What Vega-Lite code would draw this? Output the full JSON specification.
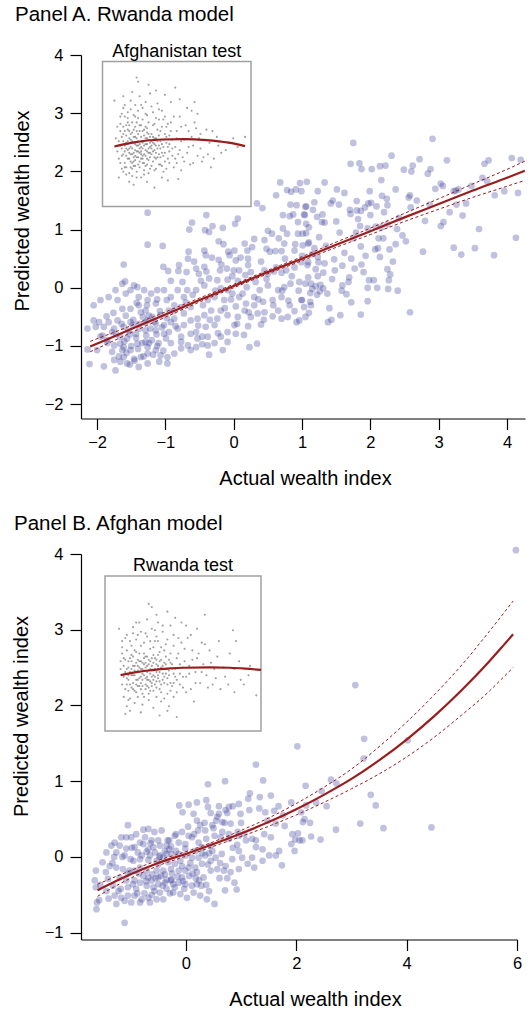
{
"$schema": "https://vega.github.io/schema/vega-lite/v6.json",
"padding": {"left": 11, "top": 4, "right": 0, "bottom": 0},
"spacing": 24,
"config": {
 "font": "Liberation Sans",
 "view": {"stroke": null},
 "axis": {"domainColor": "#000", "tickColor": "#000", "labelColor": "#000", "titleColor": "#000", "grid": false, "labelFontSize": 16.5, "titleFontSize": 20, "titleFontWeight": "normal", "tickSize": 11, "domainWidth": 1.2, "tickWidth": 1.2, "labelFlush": false, "labelOverlap": false, "labelBound": false, "labelFont": "Liberation Sans", "titleFont": "Liberation Sans"},
 "title": {"fontSize": 20.5, "fontWeight": "normal", "anchor": "start", "color": "#000", "font": "Liberation Sans"}
},
"datasets": {
 "ptsA": [
{"x":1.75,"y":2.49},{"x":2.91,"y":2.56},{"x":2.31,"y":2.27},{"x":1.71,"y":2.13},{"x":1.84,"y":2.14},{"x":1.87,"y":2.04},{"x":2.02,"y":2.04},{"x":2.14,"y":2.09},{"x":2.22,"y":2.10},{"x":2.49,"y":2.03},{"x":2.60,"y":2.00},{"x":2.62,"y":2.10},{"x":2.72,"y":2.21},{"x":2.88,"y":2.04},{"x":2.84,"y":1.96},{"x":3.12,"y":2.19},{"x":3.67,"y":2.13},{"x":3.73,"y":2.19},{"x":4.07,"y":2.23},{"x":1.07,"y":1.82},{"x":1.33,"y":1.81},{"x":1.23,"y":1.66},{"x":1.51,"y":1.69},{"x":1.62,"y":1.63},{"x":1.99,"y":1.66},{"x":2.16,"y":1.85},{"x":2.37,"y":1.69},{"x":2.58,"y":1.59},{"x":2.56,"y":1.55},{"x":2.17,"y":1.58},{"x":2.24,"y":1.53},{"x":2.25,"y":1.42},{"x":1.97,"y":1.45},{"x":2.01,"y":1.46},{"x":1.92,"y":1.38},{"x":1.86,"y":1.32},{"x":1.80,"y":1.49},{"x":1.70,"y":1.34},{"x":1.80,"y":1.33},{"x":2.09,"y":1.40},{"x":1.45,"y":1.50},{"x":1.42,"y":1.45},{"x":1.54,"y":1.43},{"x":1.18,"y":1.47},{"x":1.16,"y":1.34},{"x":1.05,"y":1.39},{"x":1.03,"y":1.26},{"x":1.22,"y":1.22},{"x":1.30,"y":1.26},{"x":1.29,"y":1.13},{"x":1.33,"y":1.12},{"x":1.50,"y":1.14},{"x":1.71,"y":1.27},{"x":1.79,"y":0.95},{"x":1.85,"y":1.06},{"x":1.96,"y":1.02},{"x":2.08,"y":1.05},{"x":2.16,"y":1.04},{"x":2.25,"y":1.09},{"x":2.39,"y":1.01},{"x":2.47,"y":0.90},{"x":2.19,"y":0.85},{"x":1.86,"y":0.71},{"x":2.07,"y":0.66},{"x":2.11,"y":0.68},{"x":2.28,"y":0.66},{"x":2.37,"y":0.75},{"x":2.77,"y":0.62},{"x":3.03,"y":1.06},{"x":3.07,"y":1.13},{"x":3.03,"y":1.79},{"x":3.06,"y":1.75},{"x":3.22,"y":1.66},{"x":3.25,"y":1.67},{"x":3.29,"y":1.69},{"x":3.26,"y":1.43},{"x":3.16,"y":1.30},{"x":3.35,"y":1.24},{"x":3.48,"y":1.75},{"x":3.64,"y":1.89},{"x":3.71,"y":1.83},{"x":3.82,"y":1.59},{"x":3.96,"y":1.66},{"x":4.16,"y":1.63},{"x":3.59,"y":1.01},{"x":4.13,"y":0.86},{"x":3.22,"y":0.69},{"x":3.33,"y":0.57},{"x":3.53,"y":0.68},{"x":3.81,"y":0.56},{"x":2.59,"y":1.38},{"x":2.87,"y":1.43},{"x":1.10,"y":1.04},{"x":1.06,"y":0.94},{"x":1.10,"y":0.78},{"x":1.18,"y":0.68},{"x":1.25,"y":0.87},{"x":1.23,"y":0.53},{"x":1.24,"y":0.44},{"x":1.09,"y":0.44},{"x":1.20,"y":0.32},{"x":1.31,"y":0.26},{"x":1.44,"y":0.15},{"x":1.59,"y":0.04},{"x":1.69,"y":0.18},{"x":1.87,"y":0.40},{"x":1.90,"y":0.27},{"x":1.72,"y":0.50},{"x":1.59,"y":0.38},{"x":1.47,"y":0.49},{"x":1.77,"y":0.33},{"x":1.98,"y":0.13},{"x":2.05,"y":0.13},{"x":2.14,"y":0.53},{"x":2.25,"y":0.32},{"x":2.29,"y":0.23},{"x":2.27,"y":0.13},{"x":2.10,"y":0.00},{"x":1.96,"y":0.00},{"x":2.26,"y":-0.02},{"x":2.40,"y":-0.05},{"x":1.65,"y":-0.11},{"x":1.58,"y":-0.05},{"x":1.72,"y":-0.25},{"x":1.96,"y":-0.23},{"x":1.40,"y":-0.35},{"x":1.43,"y":-0.55},{"x":1.38,"y":-0.59},{"x":1.56,"y":-0.47},{"x":1.86,"y":-0.46},{"x":2.58,"y":-0.42},{"x":1.10,"y":-0.43},{"x":1.05,"y":0.07},{"x":1.13,"y":0.07},{"x":1.15,"y":-0.02},{"x":1.20,"y":0.03},{"x":1.26,"y":-0.06},{"x":1.31,"y":-0.01},{"x":1.37,"y":-0.10},{"x":1.22,"y":-0.12},{"x":1.12,"y":-0.09},{"x":1.12,"y":-0.24},{"x":1.23,"y":0.20},{"x":1.33,"y":0.42},{"x":1.00,"y":-0.21},{"x":1.03,"y":-0.33},
{"x":0.68,"y":1.81},{"x":0.78,"y":1.68},{"x":0.91,"y":1.69},{"x":0.97,"y":1.80},{"x":4.20,"y":2.20},
{"x":0.62,"y":1.59},{"x":0.84,"y":1.65},{"x":0.99,"y":1.66},{"x":0.83,"y":1.43},{"x":0.92,"y":1.42},{"x":1.06,"y":1.40},{"x":1.04,"y":1.25},{"x":0.72,"y":1.25},{"x":0.82,"y":1.23},{"x":0.87,"y":1.26},{"x":0.94,"y":1.13},{"x":1.06,"y":1.10},{"x":0.34,"y":1.45},{"x":0.42,"y":1.37},{"x":-1.26,"y":1.29},{"x":-0.40,"y":1.25},{"x":-0.61,"y":1.12},{"x":-0.65,"y":1.00},{"x":-0.42,"y":0.99},{"x":-0.36,"y":0.96},{"x":-0.31,"y":1.06},{"x":-0.16,"y":1.03},{"x":0.02,"y":1.10},{"x":0.06,"y":1.19},{"x":0.50,"y":0.98},{"x":0.56,"y":0.93},{"x":0.72,"y":1.02},{"x":0.78,"y":0.93},{"x":0.94,"y":0.93},{"x":1.01,"y":0.93},{"x":1.09,"y":0.76},{"x":1.01,"y":0.73},{"x":0.89,"y":0.64},{"x":0.74,"y":0.76},{"x":0.70,"y":0.63},{"x":-1.26,"y":0.74},{"x":-1.04,"y":0.72},{"x":0.30,"y":0.84},{"x":0.16,"y":0.76},{"x":0.20,"y":0.64},{"x":0.01,"y":0.64},{"x":-0.06,"y":0.56},{"x":0.03,"y":0.47},{"x":0.21,"y":0.50},{"x":0.21,"y":0.39},{"x":-0.22,"y":0.80},{"x":-0.15,"y":0.75},{"x":-0.43,"y":0.64},{"x":-0.41,"y":0.56},{"x":-0.67,"y":0.50},{"x":-0.22,"y":0.48},{"x":-0.20,"y":0.30},{"x":-0.10,"y":0.33},{"x":-0.02,"y":0.20},{"x":0.08,"y":0.30},{"x":0.25,"y":0.27},{"x":0.45,"y":0.82},{"x":0.48,"y":0.67},{"x":0.61,"y":0.63},{"x":0.45,"y":0.30},{"x":0.50,"y":0.24},{"x":0.59,"y":0.28},{"x":0.70,"y":0.26},{"x":0.77,"y":0.30},{"x":0.89,"y":0.35},{"x":0.99,"y":0.44},{"x":1.08,"y":0.39},{"x":-1.61,"y":0.40},{"x":-1.59,"y":0.11},{"x":-0.80,"y":0.39},{"x":-1.03,"y":0.36},{"x":-0.96,"y":0.29},{"x":-0.81,"y":0.29},{"x":-0.92,"y":0.12},{"x":-0.69,"y":0.27},{"x":-0.55,"y":0.33},{"x":-0.43,"y":0.36},{"x":-0.51,"y":0.24},{"x":-0.36,"y":0.16},{"x":-0.24,"y":0.13},{"x":-0.09,"y":0.14},{"x":0.06,"y":0.12},{"x":0.19,"y":0.01},{"x":0.38,"y":-0.04},{"x":0.50,"y":0.04},{"x":0.65,"y":-0.04},{"x":0.74,"y":0.01},{"x":0.83,"y":0.07},{"x":0.96,"y":0.10},{"x":1.09,"y":0.18},{"x":0.70,"y":-0.16},{"x":0.82,"y":-0.30},{"x":0.99,"y":-0.21},{"x":1.13,"y":-0.30},{"x":0.89,"y":-0.40},{"x":0.96,"y":-0.56},{"x":0.70,"y":-0.53},{"x":0.57,"y":-0.49},{"x":0.45,"y":-0.42},{"x":0.30,"y":-0.30},{"x":0.18,"y":-0.27},{"x":0.08,"y":-0.16},{"x":-0.02,"y":-0.10},{"x":-0.14,"y":-0.21},{"x":-0.19,"y":-0.39},{"x":-0.09,"y":-0.47},{"x":0.06,"y":-0.50},{"x":0.21,"y":-0.66},{"x":0.40,"y":-0.63},{"x":0.01,"y":-0.64},{"x":-0.09,"y":-0.76},{"x":-0.19,"y":-0.84},{"x":-0.28,"y":-0.95},{"x":-0.38,"y":-0.84},{"x":-0.46,"y":-0.97},{"x":-0.55,"y":-1.02},{"x":-0.63,"y":-1.07},{"x":-0.77,"y":-1.04},{"x":-0.87,"y":-1.13},{"x":-0.97,"y":-1.19},{"x":-1.07,"y":-1.16},{"x":-1.14,"y":-1.07},{"x":-1.26,"y":-1.13},{"x":-1.36,"y":-1.19},{"x":-1.46,"y":-1.22},{"x":-1.56,"y":-1.30},{"x":-1.66,"y":-1.27},{"x":-1.75,"y":-1.24},{"x":-1.90,"y":-1.35},{"x":-2.11,"y":-1.31},{"x":-2.00,"y":-1.07},{"x":-2.14,"y":-1.06},{"x":-1.73,"y":-1.42},{"x":-1.52,"y":-1.32},{"x":-1.61,"y":-1.19},{"x":-1.24,"y":-0.95},{"x":-1.12,"y":-1.00},{"x":-0.99,"y":-0.87},{"x":-0.82,"y":-0.70},{"x":-0.73,"y":-0.64},{"x":-0.63,"y":-0.56},{"x":-0.73,"y":-0.44},{"x":-0.87,"y":-0.53},{"x":-0.95,"y":-0.39},{"x":-1.07,"y":-0.47},{"x":-1.19,"y":-0.50},{"x":-1.29,"y":-0.39},{"x":-1.39,"y":-0.30},{"x":-1.51,"y":-0.36},{"x":-1.63,"y":-0.36},{"x":-1.76,"y":-0.43},{"x":-1.86,"y":-0.49},{"x":-1.97,"y":-0.59},{"x":-2.05,"y":-0.56},{"x":-2.14,"y":-0.70},{"x":-2.02,"y":-0.67},{"x":-1.90,"y":-0.67},{"x":-1.78,"y":-0.76},{"x":-1.66,"y":-0.84},{"x":-1.56,"y":-0.87},{"x":-1.41,"y":-0.96},{"x":-1.29,"y":-0.93},{"x":-1.14,"y":-0.73},{"x":-1.02,"y":-0.64},{"x":-0.92,"y":-0.59},{"x":-0.77,"y":-0.84},{"x":-0.63,"y":-0.79},{"x":-0.53,"y":-0.87},{"x":-0.41,"y":-0.67},{"x":-0.28,"y":-0.64},{"x":-0.24,"y":-0.53},{"x":-0.33,"y":-0.39},{"x":-0.43,"y":-0.47},{"x":-0.53,"y":-0.53},{"x":-0.63,"y":-0.33},{"x":-0.73,"y":-0.16},{"x":-0.82,"y":-0.04},{"x":-0.92,"y":-0.16},{"x":-1.02,"y":-0.04},{"x":-1.12,"y":-0.04},{"x":-1.21,"y":-0.10},{"x":-1.31,"y":-0.04},{"x":-1.41,"y":0.01},{"x":-1.51,"y":-0.04},{"x":-1.58,"y":-0.10},{"x":-1.70,"y":-0.21},{"x":-1.83,"y":-0.16},{"x":-1.95,"y":-0.21},{"x":-2.05,"y":-0.30},{"x":-1.73,"y":-0.04},{"x":-1.63,"y":0.07},{"x":-1.46,"y":0.04},{"x":-1.39,"y":-0.16},{"x":-1.26,"y":-0.21},{"x":-1.14,"y":-0.27},{"x":-0.98,"y":-0.21},{"x":-0.87,"y":-0.30},{"x":-0.77,"y":-0.33},{"x":-0.68,"y":-0.04},{"x":-0.55,"y":-0.04},{"x":-0.43,"y":0.04},{"x":-0.38,"y":-0.21},{"x":-0.28,"y":-0.16},{"x":-0.19,"y":-0.01},{"x":-0.09,"y":-0.04},{"x":0.03,"y":-0.32},{"x":0.16,"y":-0.39},{"x":0.25,"y":-0.50},{"x":0.35,"y":-0.44},{"x":0.30,"y":-0.16},{"x":0.43,"y":-0.24},{"x":0.57,"y":-0.21},{"x":0.65,"y":-0.39},{"x":0.79,"y":-0.50},{"x":0.92,"y":-0.59},{"x":1.05,"y":-0.50},{"x":0.23,"y":-1.02},{"x":0.34,"y":-0.96},{"x":0.15,"y":-0.81},{"x":-0.09,"y":-0.93},{"x":0.03,"y":-0.79},{"x":-0.38,"y":-0.99},{"x":-0.36,"y":-1.15},{"x":-0.16,"y":-1.07},{"x":-1.51,"y":-0.59},{"x":-1.39,"y":-0.62},{"x":-1.29,"y":-0.73},{"x":-1.26,"y":-0.56},{"x":-1.14,"y":-0.62},{"x":-1.02,"y":-0.79},{"x":-1.61,"y":-1.02},{"x":-1.75,"y":-0.99},{"x":-1.85,"y":-0.90},{"x":-1.95,"y":-0.84},{"x":-1.70,"y":-0.56},{"x":-1.61,"y":-0.67},{"x":-1.43,"y":-0.79},{"x":-1.83,"y":-0.59},{"x":-1.09,"y":-1.27},{"x":-0.97,"y":-1.30},{"x":-1.26,"y":-1.30},{"x":-1.39,"y":-1.36},{"x":-1.51,"y":-1.07},{"x":-1.63,"y":-1.07},{"x":-0.77,"y":-0.93},{"x":-0.67,"y":-0.99},{"x":-0.55,"y":-0.76},{"x":-0.46,"y":-0.84},
{"x":-1.85,"y":-0.95},{"x":-1.78,"y":-1.10},{"x":-1.72,"y":-0.80},{"x":-1.68,"y":-1.18},{"x":-1.64,"y":-0.62},{"x":-1.60,"y":-0.92},{"x":-1.57,"y":-1.12},{"x":-1.54,"y":-0.74},{"x":-1.50,"y":-1.00},{"x":-1.47,"y":-0.55},{"x":-1.45,"y":-1.25},{"x":-1.43,"y":-0.86},{"x":-1.40,"y":-1.05},{"x":-1.38,"y":-0.70},{"x":-1.36,"y":-0.42},{"x":-1.34,"y":-0.95},{"x":-1.32,"y":-1.18},{"x":-1.30,"y":-0.60},{"x":-1.28,"y":-0.82},{"x":-1.26,"y":-1.02},{"x":-1.24,"y":-0.48},{"x":-1.22,"y":-0.70},{"x":-1.20,"y":-0.90},{"x":-1.18,"y":-1.15},{"x":-1.16,"y":-0.58},{"x":-1.13,"y":-0.80},{"x":-1.10,"y":-0.95},{"x":-1.08,"y":-0.40},{"x":-1.05,"y":-0.68},{"x":-1.03,"y":-1.08},{"x":-0.98,"y":-0.52},{"x":-0.95,"y":-0.76},{"x":-0.92,"y":-0.95},{"x":-0.88,"y":-0.40},{"x":-0.85,"y":-0.66},{"x":-1.52,"y":-0.80},{"x":-1.66,"y":-0.96},{"x":-1.75,"y":-0.70},{"x":-1.92,"y":-0.82},{"x":-1.33,"y":-0.50},{"x":-1.48,"y":-0.64},{"x":-1.58,"y":-0.48},{"x":-1.42,"y":-0.26},{"x":-1.27,"y":-0.30},{"x":-1.12,"y":-0.20},
{"x":-0.75,"y":0.10},{"x":-0.70,"y":-0.25},{"x":-0.66,"y":0.62},{"x":-0.60,"y":-0.12},{"x":-0.58,"y":0.45},{"x":-0.52,"y":-0.65},{"x":-0.48,"y":0.12},{"x":-0.45,"y":-0.30},{"x":-0.40,"y":0.28},{"x":-0.35,"y":-0.55},{"x":-0.32,"y":0.52},{"x":-0.27,"y":-0.05},{"x":-0.23,"y":-0.78},{"x":-0.18,"y":0.40},{"x":-0.13,"y":-0.35},{"x":-0.08,"y":0.62},{"x":-0.04,"y":-0.20},{"x":0.00,"y":0.30},{"x":0.05,"y":-0.62},{"x":0.10,"y":0.52},{"x":0.13,"y":-0.10},{"x":0.17,"y":0.22},{"x":0.22,"y":-0.42},{"x":0.27,"y":0.70},{"x":0.32,"y":0.10},{"x":0.36,"y":-0.20},{"x":0.40,"y":0.45},{"x":0.44,"y":-0.55},{"x":0.48,"y":0.15},{"x":0.53,"y":0.62},{"x":0.58,"y":-0.30},{"x":0.62,"y":0.35},{"x":0.66,"y":0.85},{"x":0.71,"y":-0.05},{"x":0.75,"y":0.50},{"x":0.80,"y":-0.22},{"x":0.85,"y":0.20},{"x":0.90,"y":0.75},{"x":0.95,"y":-0.05},{"x":1.00,"y":0.55},{"x":1.15,"y":0.58},{"x":1.27,"y":0.05},{"x":1.35,"y":0.72},{"x":1.48,"y":0.30},{"x":1.55,"y":0.95},{"x":1.62,"y":0.60},{"x":1.68,"y":0.10},{"x":1.75,"y":0.85},{"x":1.82,"y":1.18},{"x":1.93,"y":0.55},{"x":2.00,"y":1.25},{"x":2.12,"y":0.85},{"x":2.20,"y":1.30},{"x":2.33,"y":0.45},{"x":2.42,"y":1.20},{"x":2.52,"y":0.80},{"x":2.68,"y":1.50},{"x":2.80,"y":1.15},{"x":2.95,"y":1.70},{"x":3.40,"y":1.45}
 ],
 "fitA": [{"x":-2.1,"y":-1.01},{"x":-1.5,"y":-0.71},{"x":-1.0,"y":-0.46},{"x":-0.5,"y":-0.21},{"x":0,"y":0.03},{"x":0.5,"y":0.27},{"x":1.0,"y":0.50},{"x":1.5,"y":0.74},{"x":2.0,"y":0.97},{"x":2.5,"y":1.21},{"x":3.0,"y":1.44},{"x":3.5,"y":1.67},{"x":4.0,"y":1.89},{"x":4.26,"y":2.01}],
 "loA": [{"x":-2.1,"y":-1.10},{"x":-1.5,"y":-0.77},{"x":-1.0,"y":-0.505},{"x":-0.5,"y":-0.245},{"x":0,"y":0.0},{"x":0.5,"y":0.24},{"x":1.0,"y":0.465},{"x":1.5,"y":0.695},{"x":2.0,"y":0.915},{"x":2.5,"y":1.14},{"x":3.0,"y":1.35},{"x":3.5,"y":1.555},{"x":4.0,"y":1.745},{"x":4.26,"y":1.845}],
 "hiA": [{"x":-2.1,"y":-0.92},{"x":-1.5,"y":-0.65},{"x":-1.0,"y":-0.415},{"x":-0.5,"y":-0.175},{"x":0,"y":0.06},{"x":0.5,"y":0.30},{"x":1.0,"y":0.535},{"x":1.5,"y":0.785},{"x":2.0,"y":1.025},{"x":2.5,"y":1.28},{"x":3.0,"y":1.53},{"x":3.5,"y":1.785},{"x":4.0,"y":2.035},{"x":4.26,"y":2.175}],
 "insA": [
{"x":0.08,"y":0.73},{"x":0.23,"y":0.89},{"x":0.24,"y":0.86},{"x":0.31,"y":0.84},{"x":0.49,"y":0.82},{"x":0.62,"y":0.72},{"x":0.64,"y":0.64},{"x":0.66,"y":0.50},{"x":0.96,"y":0.48},{"x":0.73,"y":0.27},{"x":0.68,"y":0.34},{"x":0.51,"y":0.19},{"x":0.35,"y":0.13},{"x":0.21,"y":0.15},{"x":0.11,"y":0.20},
{"x":0.12,"y":0.42},{"x":0.13,"y":0.48},{"x":0.14,"y":0.36},{"x":0.15,"y":0.52},{"x":0.15,"y":0.30},{"x":0.16,"y":0.44},{"x":0.17,"y":0.39},{"x":0.17,"y":0.58},{"x":0.18,"y":0.33},{"x":0.18,"y":0.47},{"x":0.19,"y":0.41},{"x":0.19,"y":0.27},{"x":0.20,"y":0.36},{"x":0.20,"y":0.51},{"x":0.21,"y":0.44},{"x":0.21,"y":0.31},{"x":0.22,"y":0.39},{"x":0.22,"y":0.55},{"x":0.23,"y":0.34},{"x":0.23,"y":0.47},{"x":0.24,"y":0.42},{"x":0.24,"y":0.29},{"x":0.25,"y":0.37},{"x":0.25,"y":0.52},{"x":0.26,"y":0.45},{"x":0.26,"y":0.33},{"x":0.27,"y":0.40},{"x":0.27,"y":0.60},{"x":0.28,"y":0.36},{"x":0.28,"y":0.49},{"x":0.29,"y":0.43},{"x":0.29,"y":0.28},{"x":0.30,"y":0.38},{"x":0.30,"y":0.54},{"x":0.31,"y":0.46},{"x":0.31,"y":0.32},{"x":0.32,"y":0.41},{"x":0.33,"y":0.36},{"x":0.33,"y":0.50},{"x":0.34,"y":0.44},{"x":0.35,"y":0.39},{"x":0.35,"y":0.57},{"x":0.36,"y":0.47},{"x":0.37,"y":0.34},{"x":0.38,"y":0.42},{"x":0.39,"y":0.52},{"x":0.40,"y":0.37},{"x":0.41,"y":0.46},{"x":0.42,"y":0.31},{"x":0.43,"y":0.55},{"x":0.44,"y":0.41},
{"x":0.10,"y":0.55},{"x":0.11,"y":0.33},{"x":0.12,"y":0.62},{"x":0.13,"y":0.26},{"x":0.14,"y":0.68},{"x":0.16,"y":0.22},{"x":0.17,"y":0.65},{"x":0.19,"y":0.73},{"x":0.20,"y":0.21},{"x":0.21,"y":0.63},{"x":0.22,"y":0.70},{"x":0.23,"y":0.24},{"x":0.24,"y":0.66},{"x":0.25,"y":0.76},{"x":0.26,"y":0.20},{"x":0.27,"y":0.68},{"x":0.28,"y":0.25},{"x":0.29,"y":0.72},{"x":0.30,"y":0.63},{"x":0.31,"y":0.23},{"x":0.32,"y":0.78},{"x":0.33,"y":0.28},{"x":0.34,"y":0.65},{"x":0.36,"y":0.26},{"x":0.37,"y":0.71},{"x":0.38,"y":0.60},{"x":0.39,"y":0.29},{"x":0.40,"y":0.66},{"x":0.41,"y":0.24},{"x":0.42,"y":0.62},{"x":0.44,"y":0.33},{"x":0.45,"y":0.49},{"x":0.46,"y":0.58},{"x":0.47,"y":0.40},{"x":0.48,"y":0.27},{"x":0.50,"y":0.52},{"x":0.51,"y":0.36},{"x":0.52,"y":0.62},{"x":0.53,"y":0.45},{"x":0.55,"y":0.31},{"x":0.56,"y":0.56},{"x":0.58,"y":0.41},{"x":0.60,"y":0.48},{"x":0.61,"y":0.30},{"x":0.63,"y":0.54},{"x":0.66,"y":0.40},{"x":0.69,"y":0.46},{"x":0.71,"y":0.36},{"x":0.74,"y":0.52},{"x":0.78,"y":0.42},{"x":0.83,"y":0.39},{"x":0.88,"y":0.47},{"x":0.57,"y":0.68},{"x":0.46,"y":0.72},{"x":0.53,"y":0.25},{"x":0.44,"y":0.18},{"x":0.30,"y":0.17},{"x":0.18,"y":0.17},{"x":0.15,"y":0.62},{"x":0.09,"y":0.47},{"x":0.10,"y":0.38},
{"x":0.16,"y":0.40},{"x":0.18,"y":0.37},{"x":0.20,"y":0.45},{"x":0.22,"y":0.35},{"x":0.24,"y":0.50},{"x":0.26,"y":0.38},{"x":0.28,"y":0.42},{"x":0.30,"y":0.47},{"x":0.32,"y":0.37},{"x":0.34,"y":0.31},{"x":0.36,"y":0.42},{"x":0.19,"y":0.50},{"x":0.21,"y":0.28},{"x":0.23,"y":0.58},{"x":0.25,"y":0.43},{"x":0.27,"y":0.30},{"x":0.29,"y":0.55},{"x":0.31,"y":0.40},{"x":0.33,"y":0.45},{"x":0.35,"y":0.34},{"x":0.14,"y":0.45},{"x":0.17,"y":0.53},{"x":0.19,"y":0.31},{"x":0.26,"y":0.56},{"x":0.38,"y":0.49},{"x":0.40,"y":0.43},
{"x":0.13,"y":0.40},{"x":0.14,"y":0.50},{"x":0.15,"y":0.42},{"x":0.16,"y":0.35},{"x":0.16,"y":0.56},{"x":0.17,"y":0.45},{"x":0.18,"y":0.40},{"x":0.18,"y":0.52},{"x":0.19,"y":0.44},{"x":0.19,"y":0.36},{"x":0.20,"y":0.40},{"x":0.20,"y":0.30},{"x":0.21,"y":0.48},{"x":0.21,"y":0.37},{"x":0.22,"y":0.43},{"x":0.22,"y":0.32},{"x":0.23,"y":0.38},{"x":0.23,"y":0.52},{"x":0.24,"y":0.34},{"x":0.24,"y":0.45},{"x":0.25,"y":0.40},{"x":0.25,"y":0.31},{"x":0.26,"y":0.48},{"x":0.26,"y":0.36},{"x":0.27,"y":0.44},{"x":0.27,"y":0.35},{"x":0.28,"y":0.30},{"x":0.28,"y":0.53},{"x":0.29,"y":0.39},{"x":0.29,"y":0.47},{"x":0.30,"y":0.33},{"x":0.30,"y":0.43},{"x":0.31,"y":0.50},{"x":0.32,"y":0.34},{"x":0.32,"y":0.44},{"x":0.33,"y":0.40},{"x":0.34,"y":0.48},{"x":0.35,"y":0.43},{"x":0.36,"y":0.37},{"x":0.37,"y":0.45},{"x":0.38,"y":0.36},{"x":0.39,"y":0.40},{"x":0.41,"y":0.35},{"x":0.42,"y":0.50},{"x":0.43,"y":0.44},{"x":0.45,"y":0.38},{"x":0.47,"y":0.46},{"x":0.49,"y":0.33},{"x":0.15,"y":0.27},{"x":0.12,"y":0.52},
{"x":0.11,"y":0.45},{"x":0.12,"y":0.30},{"x":0.12,"y":0.57},{"x":0.13,"y":0.35},{"x":0.13,"y":0.64},{"x":0.14,"y":0.24},{"x":0.14,"y":0.55},{"x":0.15,"y":0.38},{"x":0.15,"y":0.70},{"x":0.16,"y":0.27},{"x":0.16,"y":0.49},{"x":0.17,"y":0.33},{"x":0.17,"y":0.61},{"x":0.18,"y":0.23},{"x":0.18,"y":0.56},{"x":0.19,"y":0.46},{"x":0.19,"y":0.67},{"x":0.20,"y":0.26},{"x":0.20,"y":0.58},{"x":0.21,"y":0.34},{"x":0.21,"y":0.53},{"x":0.22,"y":0.28},{"x":0.22,"y":0.48},{"x":0.22,"y":0.62},{"x":0.23,"y":0.42},{"x":0.23,"y":0.20},{"x":0.24,"y":0.38},{"x":0.24,"y":0.61},{"x":0.25,"y":0.27},{"x":0.25,"y":0.56},{"x":0.26,"y":0.41},{"x":0.26,"y":0.70},{"x":0.27,"y":0.33},{"x":0.27,"y":0.52},{"x":0.28,"y":0.45},{"x":0.28,"y":0.22},{"x":0.29,"y":0.35},{"x":0.29,"y":0.64},{"x":0.30,"y":0.29},{"x":0.30,"y":0.51},{"x":0.31,"y":0.37},{"x":0.31,"y":0.58},{"x":0.32,"y":0.26},{"x":0.32,"y":0.48},{"x":0.33,"y":0.42},{"x":0.33,"y":0.69},{"x":0.34,"y":0.38},{"x":0.34,"y":0.56},{"x":0.35,"y":0.47},{"x":0.35,"y":0.25},{"x":0.36,"y":0.33},{"x":0.36,"y":0.61},{"x":0.37,"y":0.40},{"x":0.37,"y":0.53},{"x":0.38,"y":0.29},{"x":0.38,"y":0.67},{"x":0.39,"y":0.45},{"x":0.39,"y":0.34},{"x":0.40,"y":0.55},{"x":0.40,"y":0.28},{"x":0.41,"y":0.41},{"x":0.41,"y":0.60},{"x":0.42,"y":0.37},{"x":0.43,"y":0.48},{"x":0.43,"y":0.26},{"x":0.44,"y":0.57},{"x":0.45,"y":0.43},{"x":0.45,"y":0.30},{"x":0.46,"y":0.52},{"x":0.47,"y":0.35},{"x":0.48,"y":0.62},{"x":0.49,"y":0.41},{"x":0.50,"y":0.30},{"x":0.50,"y":0.47},{"x":0.52,"y":0.39},{"x":0.53,"y":0.55},{"x":0.54,"y":0.34},{"x":0.55,"y":0.46},{"x":0.57,"y":0.37},{"x":0.58,"y":0.52},{"x":0.59,"y":0.29},{"x":0.61,"y":0.42},{"x":0.62,"y":0.58},{"x":0.64,"y":0.35},{"x":0.65,"y":0.47},{"x":0.67,"y":0.31},{"x":0.70,"y":0.53},{"x":0.72,"y":0.44},{"x":0.75,"y":0.33},{"x":0.77,"y":0.48},{"x":0.80,"y":0.37},{"x":0.85,"y":0.44},{"x":0.91,"y":0.41},{"x":0.60,"y":0.66},{"x":0.52,"y":0.74},{"x":0.42,"y":0.77},{"x":0.36,"y":0.80},{"x":0.20,"y":0.79},{"x":0.14,"y":0.76},{"x":0.40,"y":0.20}
 ],
 "insFitA": [{"x":0.08,"y":0.414},{"x":0.2,"y":0.44},{"x":0.3,"y":0.455},{"x":0.4,"y":0.462},{"x":0.55,"y":0.465},{"x":0.7,"y":0.458},{"x":0.85,"y":0.44},{"x":0.96,"y":0.416}],
 "boxA": [{"x":0,"x2":1,"y":0,"y2":1}],
 "labA": [{"x":0.5,"y":1,"label":"Afghanistan test"}],
 "ptsB": [
{"x":5.98,"y":4.05},{"x":3.07,"y":2.27},{"x":3.23,"y":1.56},{"x":2.02,"y":1.46},{"x":3.22,"y":1.30},{"x":4.02,"y":1.54},{"x":2.63,"y":1.02},{"x":2.73,"y":0.97},{"x":2.46,"y":0.87},{"x":2.36,"y":0.72},{"x":2.55,"y":0.67},{"x":3.35,"y":0.82},{"x":3.44,"y":0.68},{"x":2.15,"y":0.50},{"x":2.12,"y":0.46},{"x":2.25,"y":0.45},{"x":3.16,"y":0.44},{"x":3.58,"y":0.38},{"x":4.45,"y":0.39},{"x":2.72,"y":0.36},{"x":2.27,"y":0.27},{"x":2.44,"y":0.23},{"x":1.98,"y":0.23},{"x":2.06,"y":0.22},{"x":1.91,"y":0.17},{"x":1.27,"y":1.22},
{"x":0.40,"y":0.96},{"x":0.71,"y":1.00},{"x":1.40,"y":1.01},{"x":2.17,"y":0.94},{"x":-0.12,"y":0.68},{"x":-0.06,"y":0.59},{"x":0.05,"y":0.69},{"x":0.20,"y":0.72},{"x":0.37,"y":0.75},{"x":0.40,"y":0.66},{"x":0.60,"y":0.67},{"x":0.45,"y":0.58},{"x":0.60,"y":0.57},{"x":0.75,"y":0.58},{"x":0.78,"y":0.66},{"x":0.85,"y":0.67},{"x":0.96,"y":0.70},{"x":1.13,"y":0.77},{"x":1.16,"y":0.84},{"x":1.34,"y":0.79},{"x":1.54,"y":0.81},{"x":0.99,"y":0.57},{"x":1.15,"y":0.62},{"x":1.33,"y":0.64},{"x":1.44,"y":0.59},{"x":1.60,"y":0.61},{"x":1.68,"y":0.67},{"x":1.91,"y":0.72},{"x":2.09,"y":0.59},{"x":2.18,"y":0.68},{"x":1.76,"y":0.55},{"x":1.63,"y":0.44},{"x":1.48,"y":0.48},{"x":1.79,"y":0.41},{"x":1.93,"y":0.30},{"x":2.03,"y":0.31},{"x":2.11,"y":0.22},{"x":1.97,"y":0.08},{"x":1.74,"y":-0.11},{"x":1.69,"y":0.08},{"x":1.63,"y":0.02},{"x":1.54,"y":0.26},{"x":1.42,"y":0.30},{"x":1.20,"y":0.24},{"x":1.06,"y":0.30},{"x":0.94,"y":0.33},{"x":0.81,"y":0.44},{"x":0.66,"y":0.46},{"x":0.57,"y":0.53},{"x":0.48,"y":0.42},{"x":0.35,"y":0.35},{"x":0.26,"y":0.42},{"x":0.20,"y":0.48},{"x":0.14,"y":0.57},{"x":0.04,"y":0.40},{"x":-0.07,"y":0.33},{"x":-0.20,"y":0.28},{"x":-0.30,"y":0.22},{"x":-0.44,"y":0.35},{"x":-0.57,"y":0.33},{"x":-0.68,"y":0.37},{"x":-0.77,"y":0.36},{"x":-0.83,"y":0.19},{"x":-0.99,"y":0.26},{"x":-1.08,"y":0.26},{"x":-1.05,"y":0.42},{"x":-0.87,"y":0.06},{"x":-0.71,"y":0.07},{"x":-0.59,"y":0.13},{"x":-0.50,"y":0.22},{"x":-0.38,"y":0.08},{"x":-0.27,"y":0.14},{"x":-0.13,"y":0.19},{"x":-0.01,"y":0.17},{"x":0.11,"y":0.26},{"x":0.23,"y":0.19},{"x":0.37,"y":0.24},{"x":0.52,"y":0.28},{"x":0.66,"y":0.33},{"x":0.78,"y":0.24},{"x":0.93,"y":0.16},{"x":1.02,"y":-0.01},{"x":1.20,"y":-0.01},{"x":0.96,"y":0.08},{"x":0.84,"y":-0.03},{"x":0.72,"y":-0.12},{"x":0.61,"y":-0.28},{"x":0.75,"y":-0.28},{"x":0.88,"y":-0.34},{"x":0.71,"y":-0.44},{"x":0.92,"y":-0.43},{"x":0.52,"y":-0.62},{"x":0.42,"y":-0.45},{"x":0.37,"y":-0.37},{"x":0.24,"y":-0.31},{"x":0.11,"y":-0.38},{"x":-0.01,"y":-0.36},{"x":-0.13,"y":-0.34},{"x":-0.27,"y":-0.31},{"x":-0.38,"y":-0.23},{"x":-0.50,"y":-0.27},{"x":-0.61,"y":-0.23},{"x":-0.71,"y":-0.18},{"x":-0.83,"y":-0.14},{"x":-0.93,"y":-0.18},{"x":-1.02,"y":-0.18},{"x":-1.14,"y":-0.16},{"x":-1.26,"y":-0.14},{"x":-1.38,"y":-0.12},{"x":-1.30,"y":0.00},{"x":-1.44,"y":0.06},{"x":-1.26,"y":0.06},{"x":-1.11,"y":0.02},{"x":-1.00,"y":-0.03},{"x":-0.83,"y":-0.03},{"x":-0.68,"y":-0.04},{"x":-0.53,"y":-0.05},{"x":-0.41,"y":-0.01},{"x":-0.32,"y":-0.07},{"x":-0.20,"y":-0.09},{"x":-0.07,"y":-0.12},{"x":0.05,"y":-0.14},{"x":0.17,"y":-0.14},{"x":0.29,"y":-0.09},{"x":0.45,"y":-0.05},{"x":0.54,"y":-0.01},{"x":0.65,"y":0.04},{"x":0.48,"y":0.08},{"x":0.35,"y":0.02},{"x":0.23,"y":-0.01},{"x":0.11,"y":-0.01},{"x":-0.01,"y":0.02},{"x":-0.13,"y":0.04},{"x":-0.26,"y":0.04},{"x":-0.35,"y":0.04},{"x":-0.47,"y":0.02},{"x":-0.56,"y":0.06},{"x":-0.68,"y":0.10},{"x":-0.77,"y":0.17},{"x":-0.93,"y":0.13},{"x":-1.08,"y":0.11},{"x":-1.20,"y":0.15},{"x":-1.35,"y":0.15},{"x":-1.51,"y":-0.07},{"x":-1.63,"y":-0.18},{"x":-1.65,"y":-0.31},{"x":-1.55,"y":-0.37},{"x":-1.63,"y":-0.40},{"x":-1.41,"y":-0.29},{"x":-1.32,"y":-0.38},{"x":-1.20,"y":-0.27},{"x":-1.08,"y":-0.31},{"x":-0.96,"y":-0.36},{"x":-0.83,"y":-0.34},{"x":-0.71,"y":-0.38},{"x":-0.59,"y":-0.40},{"x":-0.47,"y":-0.47},{"x":-0.35,"y":-0.42},{"x":-0.23,"y":-0.47},{"x":-0.10,"y":-0.49},{"x":0.02,"y":-0.54},{"x":0.14,"y":-0.47},{"x":0.26,"y":-0.51},{"x":0.38,"y":-0.56},{"x":0.18,"y":-0.28},{"x":0.06,"y":-0.25},{"x":-0.68,"y":-0.54},{"x":-0.80,"y":-0.56},{"x":-0.93,"y":-0.51},{"x":-1.05,"y":-0.51},{"x":-1.17,"y":-0.54},{"x":-1.29,"y":-0.51},{"x":-1.26,"y":-0.62},{"x":-1.11,"y":-0.58},{"x":-0.99,"y":-0.60},{"x":-0.83,"y":-0.60},{"x":-0.65,"y":-0.60},{"x":-0.53,"y":-0.56},{"x":-0.41,"y":-0.56},{"x":-0.29,"y":-0.48},{"x":-1.61,"y":-0.60},{"x":-1.62,"y":-0.69},{"x":-1.11,"y":-0.87},{"x":-1.57,"y":-0.57},{"x":-1.44,"y":-0.45},{"x":-0.68,"y":-0.27},{"x":-0.53,"y":-0.18},{"x":-0.41,"y":-0.18},{"x":-0.27,"y":-0.16},{"x":-0.13,"y":-0.18},{"x":-0.01,"y":-0.18},{"x":-0.93,"y":-0.31},{"x":-0.77,"y":-0.25},{"x":-0.62,"y":-0.31},{"x":-0.50,"y":-0.36},{"x":-0.38,"y":-0.34},{"x":-0.23,"y":-0.36},{"x":-0.07,"y":-0.27},{"x":0.20,"y":-0.36},{"x":0.32,"y":-0.27},{"x":0.45,"y":-0.18},{"x":0.57,"y":-0.16},{"x":0.69,"y":-0.18},{"x":0.81,"y":-0.20},{"x":0.96,"y":-0.16},{"x":1.12,"y":-0.09},{"x":1.24,"y":-0.14},{"x":1.39,"y":-0.05},{"x":1.51,"y":0.02},{"x":1.39,"y":0.10},{"x":1.27,"y":0.13},{"x":1.27,"y":0.22},{"x":1.09,"y":0.22},{"x":0.96,"y":0.28},{"x":0.78,"y":0.30},{"x":0.63,"y":0.26},{"x":0.45,"y":0.15},{"x":0.29,"y":0.13},{"x":0.17,"y":0.08},{"x":-0.01,"y":0.11},{"x":-0.18,"y":0.08},{"x":-0.35,"y":0.15},{"x":-0.47,"y":0.15},{"x":-0.62,"y":0.22},{"x":-0.74,"y":0.26},{"x":-0.90,"y":0.30},{"x":-1.17,"y":0.26},{"x":-1.29,"y":0.19},
{"x":-0.90,"y":-0.42},{"x":-0.75,"y":-0.48},{"x":-0.62,"y":-0.50},{"x":-0.55,"y":-0.28},{"x":-0.45,"y":-0.25},{"x":-0.35,"y":-0.30},{"x":-0.25,"y":-0.22},{"x":-0.15,"y":-0.26},{"x":-0.05,"y":-0.32},{"x":0.08,"y":-0.08},{"x":0.20,"y":-0.20},{"x":0.30,"y":0.05},{"x":0.40,"y":-0.10},{"x":-0.85,"y":-0.22},{"x":-0.95,"y":-0.05},{"x":-1.05,"y":-0.40},{"x":-1.18,"y":-0.42},{"x":-0.65,"y":0.02},{"x":-0.50,"y":-0.10},{"x":-0.30,"y":0.10},{"x":0.15,"y":0.30},{"x":0.50,"y":0.38},{"x":0.70,"y":0.45},{"x":-0.20,"y":-0.40},
{"x":-1.45,"y":-0.20},{"x":-1.40,"y":-0.55},{"x":-1.33,"y":-0.08},{"x":-1.22,"y":-0.45},{"x":-1.15,"y":0.00},{"x":-1.05,"y":-0.22},{"x":-0.98,"y":0.12},{"x":-0.88,"y":-0.48},{"x":-0.80,"y":0.02},{"x":-0.72,"y":-0.32},{"x":-0.64,"y":0.18},{"x":-0.57,"y":-0.45},{"x":-0.48,"y":0.00},{"x":-0.42,"y":-0.38},{"x":-0.33,"y":0.22},{"x":-0.26,"y":-0.30},{"x":-0.18,"y":0.30},{"x":-0.10,"y":-0.05},{"x":-0.03,"y":-0.42},{"x":0.05,"y":0.28},{"x":0.12,"y":-0.22},{"x":0.22,"y":0.35},{"x":0.28,"y":-0.38},{"x":0.34,"y":0.45},{"x":0.42,"y":0.05},{"x":0.55,"y":0.48},{"x":0.62,"y":-0.08},{"x":0.72,"y":0.62},{"x":0.85,"y":0.12},{"x":1.00,"y":0.45}
 ],
 "fitB": [{"x":-1.6,"y":-0.44},{"x":-1.0,"y":-0.23},{"x":-0.5,"y":-0.08},{"x":0,"y":0.04},{"x":0.5,"y":0.17},{"x":1.0,"y":0.31},{"x":1.5,"y":0.46},{"x":2.0,"y":0.63},{"x":2.5,"y":0.82},{"x":3.0,"y":1.03},{"x":3.5,"y":1.275},{"x":4.0,"y":1.55},{"x":4.5,"y":1.86},{"x":5.0,"y":2.205},{"x":5.5,"y":2.585},{"x":5.75,"y":2.79},{"x":5.93,"y":2.94}],
 "loB": [{"x":-1.6,"y":-0.52},{"x":-1.0,"y":-0.28},{"x":-0.5,"y":-0.115},{"x":0,"y":0.01},{"x":0.5,"y":0.14},{"x":1.0,"y":0.27},{"x":1.5,"y":0.405},{"x":2.0,"y":0.555},{"x":2.5,"y":0.72},{"x":3.0,"y":0.90},{"x":3.5,"y":1.095},{"x":4.0,"y":1.32},{"x":4.5,"y":1.58},{"x":5.0,"y":1.875},{"x":5.5,"y":2.19},{"x":5.75,"y":2.37},{"x":5.93,"y":2.50}],
 "hiB": [{"x":-1.6,"y":-0.36},{"x":-1.0,"y":-0.18},{"x":-0.5,"y":-0.045},{"x":0,"y":0.07},{"x":0.5,"y":0.20},{"x":1.0,"y":0.35},{"x":1.5,"y":0.515},{"x":2.0,"y":0.705},{"x":2.5,"y":0.92},{"x":3.0,"y":1.16},{"x":3.5,"y":1.455},{"x":4.0,"y":1.78},{"x":4.5,"y":2.14},{"x":5.0,"y":2.535},{"x":5.5,"y":2.98},{"x":5.75,"y":3.21},{"x":5.93,"y":3.38}],
 "insB": [
{"x":0.28,"y":0.82},{"x":0.30,"y":0.80},{"x":0.40,"y":0.77},{"x":0.64,"y":0.75},{"x":0.82,"y":0.65},{"x":0.84,"y":0.58},{"x":0.09,"y":0.66},{"x":0.89,"y":0.30},{"x":0.97,"y":0.23},{"x":0.83,"y":0.25},{"x":0.46,"y":0.09},{"x":0.14,"y":0.16},{"x":0.13,"y":0.11},{"x":0.59,"y":0.66},
{"x":0.14,"y":0.40},{"x":0.15,"y":0.33},{"x":0.16,"y":0.47},{"x":0.17,"y":0.28},{"x":0.18,"y":0.42},{"x":0.19,"y":0.36},{"x":0.20,"y":0.51},{"x":0.20,"y":0.25},{"x":0.21,"y":0.39},{"x":0.22,"y":0.45},{"x":0.23,"y":0.31},{"x":0.23,"y":0.55},{"x":0.24,"y":0.37},{"x":0.25,"y":0.43},{"x":0.25,"y":0.22},{"x":0.26,"y":0.34},{"x":0.27,"y":0.48},{"x":0.27,"y":0.29},{"x":0.28,"y":0.39},{"x":0.29,"y":0.53},{"x":0.29,"y":0.26},{"x":0.30,"y":0.35},{"x":0.31,"y":0.44},{"x":0.32,"y":0.30},{"x":0.32,"y":0.58},{"x":0.33,"y":0.38},{"x":0.34,"y":0.49},{"x":0.35,"y":0.27},{"x":0.36,"y":0.41},{"x":0.37,"y":0.33},{"x":0.38,"y":0.52},{"x":0.39,"y":0.37},{"x":0.40,"y":0.24},{"x":0.41,"y":0.46},{"x":0.42,"y":0.31},{"x":0.43,"y":0.40},{"x":0.44,"y":0.55},{"x":0.45,"y":0.35},
{"x":0.10,"y":0.45},{"x":0.11,"y":0.58},{"x":0.12,"y":0.35},{"x":0.13,"y":0.27},{"x":0.14,"y":0.62},{"x":0.15,"y":0.20},{"x":0.17,"y":0.55},{"x":0.18,"y":0.67},{"x":0.19,"y":0.18},{"x":0.21,"y":0.62},{"x":0.22,"y":0.70},{"x":0.24,"y":0.17},{"x":0.26,"y":0.63},{"x":0.27,"y":0.72},{"x":0.28,"y":0.20},{"x":0.30,"y":0.66},{"x":0.31,"y":0.15},{"x":0.33,"y":0.61},{"x":0.34,"y":0.70},{"x":0.36,"y":0.19},{"x":0.37,"y":0.64},{"x":0.39,"y":0.56},{"x":0.40,"y":0.13},{"x":0.42,"y":0.68},{"x":0.44,"y":0.22},{"x":0.46,"y":0.47},{"x":0.47,"y":0.60},{"x":0.48,"y":0.30},{"x":0.50,"y":0.41},{"x":0.51,"y":0.53},{"x":0.52,"y":0.25},{"x":0.54,"y":0.37},{"x":0.55,"y":0.62},{"x":0.56,"y":0.46},{"x":0.58,"y":0.31},{"x":0.60,"y":0.50},{"x":0.62,"y":0.38},{"x":0.64,"y":0.56},{"x":0.66,"y":0.28},{"x":0.68,"y":0.44},{"x":0.71,"y":0.34},{"x":0.73,"y":0.58},{"x":0.76,"y":0.41},{"x":0.79,"y":0.30},{"x":0.86,"y":0.45},{"x":0.92,"y":0.36},{"x":0.49,"y":0.70},{"x":0.57,"y":0.19},{"x":0.35,"y":0.10},{"x":0.23,"y":0.12},{"x":0.11,"y":0.50},{"x":0.12,"y":0.42},
{"x":0.16,"y":0.38},{"x":0.18,"y":0.31},{"x":0.20,"y":0.44},{"x":0.22,"y":0.38},{"x":0.24,"y":0.29},{"x":0.26,"y":0.41},{"x":0.28,"y":0.33},{"x":0.30,"y":0.42},{"x":0.32,"y":0.47},{"x":0.34,"y":0.36},{"x":0.36,"y":0.30},{"x":0.38,"y":0.44},{"x":0.17,"y":0.49},{"x":0.19,"y":0.26},{"x":0.21,"y":0.33},{"x":0.25,"y":0.50},{"x":0.27,"y":0.38},{"x":0.29,"y":0.45},{"x":0.33,"y":0.32},{"x":0.35,"y":0.51},{"x":0.23,"y":0.40},{"x":0.31,"y":0.36},{"x":0.40,"y":0.40},{"x":0.15,"y":0.36},
{"x":0.15,"y":0.45},{"x":0.16,"y":0.30},{"x":0.17,"y":0.40},{"x":0.18,"y":0.36},{"x":0.18,"y":0.48},{"x":0.19,"y":0.42},{"x":0.20,"y":0.33},{"x":0.20,"y":0.38},{"x":0.21,"y":0.46},{"x":0.21,"y":0.29},{"x":0.22,"y":0.41},{"x":0.22,"y":0.34},{"x":0.23,"y":0.45},{"x":0.23,"y":0.27},{"x":0.24,"y":0.40},{"x":0.24,"y":0.33},{"x":0.25,"y":0.36},{"x":0.25,"y":0.47},{"x":0.26,"y":0.30},{"x":0.26,"y":0.44},{"x":0.27,"y":0.35},{"x":0.27,"y":0.42},{"x":0.28,"y":0.28},{"x":0.28,"y":0.46},{"x":0.29,"y":0.37},{"x":0.29,"y":0.32},{"x":0.30,"y":0.39},{"x":0.30,"y":0.29},{"x":0.31,"y":0.49},{"x":0.31,"y":0.33},{"x":0.32,"y":0.40},{"x":0.33,"y":0.43},{"x":0.33,"y":0.28},{"x":0.34,"y":0.34},{"x":0.34,"y":0.42},{"x":0.35,"y":0.38},{"x":0.36,"y":0.46},{"x":0.37,"y":0.37},{"x":0.38,"y":0.31},{"x":0.39,"y":0.43},{"x":0.40,"y":0.34},{"x":0.41,"y":0.39},{"x":0.42,"y":0.44},{"x":0.43,"y":0.29},{"x":0.44,"y":0.37},{"x":0.46,"y":0.33},{"x":0.48,"y":0.43},{"x":0.50,"y":0.35},{"x":0.14,"y":0.30},{"x":0.13,"y":0.46},
{"x":0.10,"y":0.40},{"x":0.11,"y":0.30},{"x":0.11,"y":0.54},{"x":0.12,"y":0.47},{"x":0.12,"y":0.22},{"x":0.13,"y":0.38},{"x":0.13,"y":0.60},{"x":0.14,"y":0.34},{"x":0.14,"y":0.52},{"x":0.15,"y":0.26},{"x":0.15,"y":0.41},{"x":0.16,"y":0.58},{"x":0.16,"y":0.21},{"x":0.17,"y":0.36},{"x":0.17,"y":0.45},{"x":0.18,"y":0.27},{"x":0.18,"y":0.63},{"x":0.19,"y":0.39},{"x":0.19,"y":0.52},{"x":0.20,"y":0.30},{"x":0.20,"y":0.59},{"x":0.21,"y":0.42},{"x":0.21,"y":0.22},{"x":0.22,"y":0.50},{"x":0.22,"y":0.29},{"x":0.23,"y":0.35},{"x":0.23,"y":0.64},{"x":0.24,"y":0.44},{"x":0.24,"y":0.24},{"x":0.25,"y":0.39},{"x":0.25,"y":0.57},{"x":0.26,"y":0.27},{"x":0.26,"y":0.48},{"x":0.27,"y":0.33},{"x":0.27,"y":0.61},{"x":0.28,"y":0.43},{"x":0.28,"y":0.24},{"x":0.29,"y":0.40},{"x":0.29,"y":0.58},{"x":0.30,"y":0.31},{"x":0.30,"y":0.47},{"x":0.31,"y":0.26},{"x":0.31,"y":0.54},{"x":0.32,"y":0.35},{"x":0.32,"y":0.65},{"x":0.33,"y":0.46},{"x":0.33,"y":0.22},{"x":0.34,"y":0.40},{"x":0.34,"y":0.58},{"x":0.35,"y":0.32},{"x":0.35,"y":0.45},{"x":0.36,"y":0.25},{"x":0.36,"y":0.54},{"x":0.37,"y":0.42},{"x":0.37,"y":0.68},{"x":0.38,"y":0.35},{"x":0.38,"y":0.21},{"x":0.39,"y":0.48},{"x":0.40,"y":0.30},{"x":0.40,"y":0.59},{"x":0.41,"y":0.36},{"x":0.42,"y":0.26},{"x":0.42,"y":0.50},{"x":0.43,"y":0.43},{"x":0.44,"y":0.31},{"x":0.44,"y":0.62},{"x":0.45,"y":0.40},{"x":0.46,"y":0.25},{"x":0.47,"y":0.50},{"x":0.48,"y":0.37},{"x":0.49,"y":0.57},{"x":0.50,"y":0.28},{"x":0.51,"y":0.45},{"x":0.52,"y":0.35},{"x":0.53,"y":0.60},{"x":0.54,"y":0.42},{"x":0.55,"y":0.27},{"x":0.56,"y":0.52},{"x":0.58,"y":0.38},{"x":0.59,"y":0.47},{"x":0.61,"y":0.31},{"x":0.62,"y":0.57},{"x":0.63,"y":0.43},{"x":0.65,"y":0.36},{"x":0.67,"y":0.52},{"x":0.69,"y":0.30},{"x":0.70,"y":0.40},{"x":0.72,"y":0.48},{"x":0.74,"y":0.27},{"x":0.77,"y":0.35},{"x":0.80,"y":0.50},{"x":0.83,"y":0.40},{"x":0.87,"y":0.33},{"x":0.93,"y":0.42},{"x":0.52,"y":0.68},{"x":0.45,"y":0.73},{"x":0.33,"y":0.75},{"x":0.20,"y":0.70},{"x":0.16,"y":0.13},{"x":0.41,"y":0.16}
 ],
 "insFitB": [{"x":0.10,"y":0.36},{"x":0.2,"y":0.38},{"x":0.3,"y":0.393},{"x":0.4,"y":0.403},{"x":0.5,"y":0.408},{"x":0.67,"y":0.411},{"x":0.8,"y":0.408},{"x":0.9,"y":0.402},{"x":1.0,"y":0.394}],
 "boxB": [{"x":0,"x2":1,"y":0,"y2":1}],
 "labB": [{"x":0.5,"y":1,"label":"Rwanda test"}]
},
"vconcat": [
 {
  "width": 444, "height": 363.5,
  "title": {"text": "Panel A. Rwanda model", "frame": "group", "anchor": "start", "dx": -66, "offset": 18},
  "layer": [
   {
    "encoding": {
     "x": {"field": "x", "type": "quantitative", "scale": {"domain": [-2.235, 4.263], "nice": false, "zero": false}, "axis": {"values": [-2,-1,0,1,2,3,4], "title": "Actual wealth index", "titleX": 224, "titleY": 66, "titleBaseline": "alphabetic", "labelPadding": 5}},
     "y": {"field": "y", "type": "quantitative", "scale": {"domain": [-2.246, 4], "nice": false, "zero": false}, "axis": {"values": [-2,-1,0,1,2,3,4], "title": "Predicted wealth index", "titleX": -53, "titleY": 155.5, "titleBaseline": "alphabetic", "labelPadding": 7}}
    },
    "layer": [
     {"data": {"name": "ptsA"}, "mark": {"type": "circle", "size": 45, "color": "#2e3192", "opacity": 0.3}},
     {"data": {"name": "fitA"}, "mark": {"type": "line", "color": "#9b1c1c", "strokeWidth": 2.2, "interpolate": "monotone"}},
     {"data": {"name": "loA"}, "mark": {"type": "line", "color": "#9b1c1c", "strokeWidth": 1, "strokeDash": [3, 2.5], "interpolate": "monotone"}},
     {"data": {"name": "hiA"}, "mark": {"type": "line", "color": "#9b1c1c", "strokeWidth": 1, "strokeDash": [3, 2.5], "interpolate": "monotone"}}
    ]
   },
   {
    "encoding": {
     "x": {"field": "x", "type": "quantitative", "scale": {"domain": [-0.1448, 2.8451], "nice": false, "zero": false}, "axis": null},
     "y": {"field": "y", "type": "quantitative", "scale": {"domain": [-1.4621, 1.0448], "nice": false, "zero": false}, "axis": null}
    },
    "layer": [
     {"data": {"name": "boxA"}, "mark": {"type": "rect", "fill": "white", "stroke": "#a0a0a0", "strokeWidth": 1.5}, "encoding": {"x2": {"field": "x2"}, "y2": {"field": "y2"}}},
     {"data": {"name": "insA"}, "mark": {"type": "circle", "size": 4.5, "color": "#444444", "opacity": 0.5}},
     {"data": {"name": "insFitA"}, "mark": {"type": "line", "color": "#9b1c1c", "strokeWidth": 2.2, "interpolate": "monotone"}},
     {"data": {"name": "labA"}, "mark": {"type": "text", "fontSize": 18, "baseline": "alphabetic", "dy": -4, "color": "#000"}, "encoding": {"text": {"field": "label"}}}
    ]
   }
  ],
  "resolve": {"scale": {"x": "independent", "y": "independent"}, "axis": {"x": "independent", "y": "independent"}}
 },
 {
  "width": 436, "height": 385.5,
  "title": {"text": "Panel B. Afghan model", "frame": "group", "anchor": "start", "dx": -67, "offset": 12},
  "layer": [
   {
    "encoding": {
     "x": {"field": "x", "type": "quantitative", "scale": {"domain": [-1.9, 6.0], "nice": false, "zero": false}, "axis": {"values": [0,2,4,6], "title": "Actual wealth index", "titleX": 234, "titleY": 66, "titleBaseline": "alphabetic", "labelPadding": 5}},
     "y": {"field": "y", "type": "quantitative", "scale": {"domain": [-1.09, 4], "nice": false, "zero": false}, "axis": {"values": [-1,0,1,2,3,4], "title": "Predicted wealth index", "titleX": -54, "titleY": 162, "titleBaseline": "alphabetic", "labelPadding": 7}}
    },
    "layer": [
     {"data": {"name": "ptsB"}, "mark": {"type": "circle", "size": 45, "color": "#2e3192", "opacity": 0.3}},
     {"data": {"name": "fitB"}, "mark": {"type": "line", "color": "#9b1c1c", "strokeWidth": 2.2, "interpolate": "monotone"}},
     {"data": {"name": "loB"}, "mark": {"type": "line", "color": "#9b1c1c", "strokeWidth": 1, "strokeDash": [3, 2.5], "interpolate": "monotone"}},
     {"data": {"name": "hiB"}, "mark": {"type": "line", "color": "#9b1c1c", "strokeWidth": 1, "strokeDash": [3, 2.5], "interpolate": "monotone"}}
    ]
   },
   {
    "encoding": {
     "x": {"field": "x", "type": "quantitative", "scale": {"domain": [-0.1538, 2.641], "nice": false, "zero": false}, "axis": null},
     "y": {"field": "y", "type": "quantitative", "scale": {"domain": [-1.3452, 1.1419], "nice": false, "zero": false}, "axis": null}
    },
    "layer": [
     {"data": {"name": "boxB"}, "mark": {"type": "rect", "fill": "white", "stroke": "#a0a0a0", "strokeWidth": 1.5}, "encoding": {"x2": {"field": "x2"}, "y2": {"field": "y2"}}},
     {"data": {"name": "insB"}, "mark": {"type": "circle", "size": 4.5, "color": "#444444", "opacity": 0.5}},
     {"data": {"name": "insFitB"}, "mark": {"type": "line", "color": "#9b1c1c", "strokeWidth": 2.2, "interpolate": "monotone"}},
     {"data": {"name": "labB"}, "mark": {"type": "text", "fontSize": 18, "baseline": "alphabetic", "dy": -5, "color": "#000"}, "encoding": {"text": {"field": "label"}}}
    ]
   }
  ],
  "resolve": {"scale": {"x": "independent", "y": "independent"}, "axis": {"x": "independent", "y": "independent"}}
 }
]
}
